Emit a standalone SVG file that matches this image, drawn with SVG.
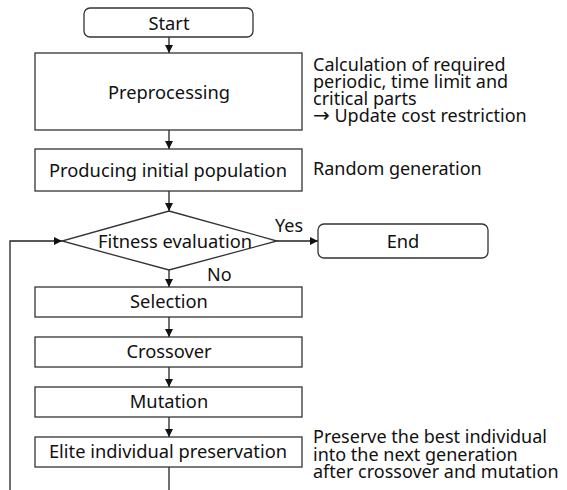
<svg xmlns="http://www.w3.org/2000/svg" width="567" height="490" viewBox="0 0 567 490">
<style>
.box{fill:#fff;stroke:#333;stroke-width:1.3}
.t{font-family:"Noto Sans",sans-serif;font-size:18.3px;fill:#111;text-anchor:middle}
.a{font-family:"Noto Sans",sans-serif;font-size:18px;fill:#111}
.c{fill:none;stroke:#222;stroke-width:1.3}
.arw{font-family:"DejaVu Sans",sans-serif;font-size:20px}
</style>
<defs>
<marker id="ar" viewBox="0 0 10 10" refX="10" refY="5" markerWidth="8" markerHeight="8" markerUnits="userSpaceOnUse" orient="auto">
<path d="M0,0 L10,5 L0,10 z" fill="#111"/>
</marker>
</defs>
<rect width="567" height="490" fill="#fff"/>
<g id="connectors">
<line class="c" x1="169" y1="37" x2="169" y2="53" marker-end="url(#ar)"/>
<line class="c" x1="169" y1="130" x2="169" y2="149" marker-end="url(#ar)"/>
<line class="c" x1="169" y1="191" x2="169" y2="211" marker-end="url(#ar)"/>
<line class="c" x1="277" y1="241" x2="318" y2="241" marker-end="url(#ar)"/>
<line class="c" x1="169" y1="270" x2="169" y2="287" marker-end="url(#ar)"/>
<line class="c" x1="169" y1="317" x2="169" y2="337" marker-end="url(#ar)"/>
<line class="c" x1="169" y1="367" x2="169" y2="387" marker-end="url(#ar)"/>
<line class="c" x1="169" y1="417" x2="169" y2="437" marker-end="url(#ar)"/>
<line class="c" x1="169" y1="467" x2="169" y2="490"/>
<polyline class="c" points="10,490 10,241 62,241" marker-end="url(#ar)"/>
<text class="a" x="275" y="232">Yes</text>
<text class="a" x="207" y="281">No</text>
</g>
<g id="start">
<rect class="box" x="84" y="8" width="169" height="29" rx="6"/>
<text class="t" x="169" y="30">Start</text>
</g>
<g id="preprocessing">
<rect class="box" x="35" y="53" width="267" height="77"/>
<text class="t" x="169" y="99">Preprocessing</text>
</g>
<g id="note-pre">
<text class="a" x="313" y="71">Calculation of required</text>
<text class="a" x="313" y="88">periodic, time limit and</text>
<text class="a" x="313" y="105">critical parts</text>
<text class="a" x="313" y="122"><tspan class="arw">→</tspan> Update cost restriction</text>
</g>
<g id="producing">
<rect class="box" x="35" y="149" width="267" height="42"/>
<text class="t" x="168" y="177">Producing initial population</text>
</g>
<g id="note-random">
<text class="a" x="313" y="175">Random generation</text>
</g>
<g id="fitness">
<polygon class="box" points="169,211 277,241 169,270 62,241"/>
<text class="t" x="175" y="248">Fitness evaluation</text>
</g>
<g id="end">
<rect class="box" x="318" y="224" width="170" height="34" rx="6"/>
<text class="t" x="403" y="248">End</text>
</g>
<g id="selection">
<rect class="box" x="35" y="287" width="267" height="30"/>
<text class="t" x="169" y="308">Selection</text>
</g>
<g id="crossover">
<rect class="box" x="35" y="337" width="267" height="30"/>
<text class="t" x="169" y="358">Crossover</text>
</g>
<g id="mutation">
<rect class="box" x="35" y="387" width="267" height="30"/>
<text class="t" x="169" y="408">Mutation</text>
</g>
<g id="elite">
<rect class="box" x="35" y="437" width="267" height="30"/>
<text class="t" x="168" y="458">Elite individual preservation</text>
</g>
<g id="note-elite">
<text class="a" x="313" y="443">Preserve the best individual</text>
<text class="a" x="313" y="461">into the next generation</text>
<text class="a" x="313" y="478">after crossover and mutation</text>
</g>
</svg>
